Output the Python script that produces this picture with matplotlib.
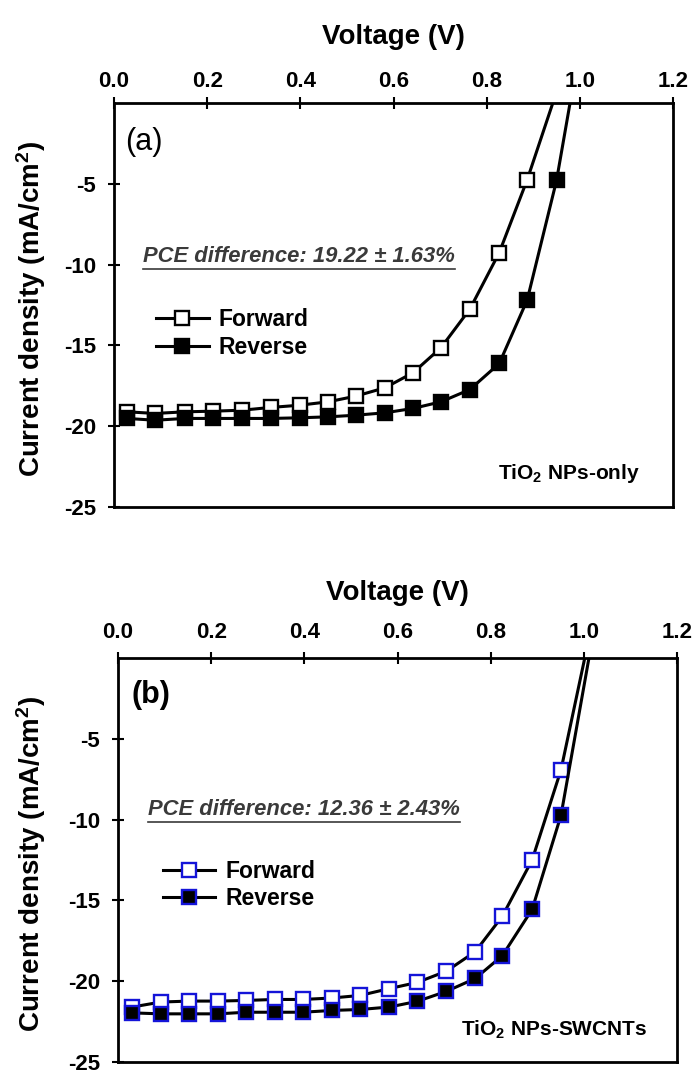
import matplotlib
matplotlib.use('Agg')
import matplotlib.pyplot as plt
from matplotlib.lines import Line2D

plt.rcParams['font.family'] = ['Liberation Sans', 'DejaVu Sans']
plt.rcParams['mathtext.fontset'] = 'custom'
plt.rcParams['mathtext.rm'] = 'Liberation Sans'
plt.rcParams['mathtext.bf'] = 'Liberation Sans:bold'
plt.rcParams['mathtext.it'] = 'Liberation Sans:italic'

# (a) TiO2 NPs-only
v_a = [0.028, 0.088, 0.153, 0.213, 0.275, 0.336, 0.399, 0.460, 0.519, 0.582,
       0.642, 0.702, 0.764, 0.827, 0.887, 0.950]
fwd_a = [-19.11, -19.21, -19.11, -19.07, -19.01, -18.84, -18.70, -18.49, -18.14,
         -17.62, -16.69, -15.14, -12.75, -9.26, -4.75]
rev_a = [-19.52, -19.63, -19.52, -19.52, -19.52, -19.52, -19.48, -19.42, -19.32,
         -19.17, -18.90, -18.49, -17.73, -16.12, -12.19, -4.79]
voc_a = [0.942, 0.979]   # forward, reverse (where the curves hit J = 0)

# (b) TiO2 NPs-SWCNTs
v_b = [0.030, 0.092, 0.153, 0.215, 0.275, 0.336, 0.397, 0.459, 0.520, 0.582,
       0.642, 0.705, 0.767, 0.825, 0.889, 0.951]
fwd_b = [-21.60, -21.29, -21.23, -21.23, -21.19, -21.13, -21.13, -21.04, -20.88,
         -20.46, -20.08, -19.38, -18.17, -15.98, -12.50, -6.92]
rev_b = [-21.96, -22.02, -22.02, -22.02, -21.92, -21.92, -21.92, -21.81, -21.75,
         -21.60, -21.25, -20.63, -19.83, -18.42, -15.56, -9.73]
voc_b = [1.002, 1.011]

xticks = [0.0, 0.2, 0.4, 0.6, 0.8, 1.0, 1.2]
yticks = [-25, -20, -15, -10, -5]
pce_a = 'PCE difference: 19.22 ± 1.63%'
pce_b = 'PCE difference: 12.36 ± 2.43%'

fig = plt.figure(figsize=(6.97, 10.70), dpi=100)
W, H = 697.0, 1070.0
ax_a = fig.add_axes([114 / W, 1 - 507 / H, 559 / W, 404 / H])
ax_b = fig.add_axes([118 / W, 1 - 1062 / H, 559 / W, 404 / H])


def iv_curve(ax, v, j, voc, edge, face, label):
    n = len(j)
    xs = list(v[:n]) + [voc]
    ys = list(j) + [0.0]
    ax.plot(xs, ys, color='black', lw=2.2, marker='s', markersize=10,
            markeredgewidth=1.7, markeredgecolor=edge, markerfacecolor=face,
            markevery=list(range(n)), label=label, zorder=3)


def style_axes(ax, tick_pad, label_y, ylab_x, panel, panel_bold, panel_xy,
               pce, pce_xy, name, name_xy, leg_xy):
    ax.set_xlim(0, 1.2)
    ax.set_ylim(-25, 0)
    ax.xaxis.tick_top()
    ax.xaxis.set_label_position('top')
    ax.set_xticks(xticks)
    ax.set_xticklabels(['%.1f' % t for t in xticks])
    ax.set_yticks(yticks)
    ax.set_yticklabels([str(t) for t in yticks])
    for s in ax.spines.values():
        s.set_linewidth(2.0)
    ax.tick_params(axis='x', direction='inout', length=8, width=1.5,
                   pad=tick_pad, labelsize=16)
    ax.tick_params(axis='y', direction='inout', length=8, width=1.5,
                   pad=9, labelsize=16)
    for lab in ax.get_xticklabels() + ax.get_yticklabels():
        lab.set_fontweight('bold')
    ax.set_xlabel('Voltage (V)', fontsize=20, fontweight='bold')
    ax.xaxis.set_label_coords(0.5, label_y)
    ax.set_ylabel(r'Current density (mA/cm$^\mathbf{2}$)', fontsize=20,
                  fontweight='bold')
    ax.yaxis.set_label_coords(ylab_x, 0.49)

    ax.text(panel_xy[0], panel_xy[1], panel, transform=ax.transAxes,
            fontsize=22, fontweight='bold' if panel_bold else 'normal',
            ha='left', va='center')
    t = ax.text(pce_xy[0], pce_xy[1], pce, transform=ax.transAxes,
                fontsize=15.8, fontstyle='italic', fontweight='bold',
                color='#3a3a3a', ha='left', va='center')
    ax.text(name_xy[0], name_xy[1], r'TiO$_\mathbf{2}$ NPs-' + name,
            transform=ax.transAxes, fontsize=15, fontweight='bold',
            ha='right', va='center')
    leg = ax.legend(loc='center left', bbox_to_anchor=leg_xy, frameon=False,
                    fontsize=16.5, handlelength=2.3, handletextpad=0.45,
                    labelspacing=0.2, borderpad=0, borderaxespad=0)
    for txt in leg.get_texts():
        txt.set_fontweight('bold')
    return t


iv_curve(ax_a, v_a, fwd_a, voc_a[0], 'black', 'white', 'Forward')
iv_curve(ax_a, v_a, rev_a, voc_a[1], 'black', 'black', 'Reverse')
iv_curve(ax_b, v_b, fwd_b, voc_b[0], '#1414d8', 'white', 'Forward')
iv_curve(ax_b, v_b, rev_b, voc_b[1], '#1414d8', 'black', 'Reverse')

t_a = style_axes(ax_a, 4, 1.146, -0.118, '(a)', False, (0.020, 0.903),
                 pce_a, (0.052, 0.621), 'only', (0.941, 0.084), (0.075, 0.43))
t_b = style_axes(ax_b, 7, 1.144, -0.125, '(b)', True, (0.025, 0.908),
                 pce_b, (0.054, 0.626), 'SWCNTs', (0.946, 0.079), (0.080, 0.438))

# underline the PCE annotations
fig.canvas.draw()
for t in (t_a, t_b):
    bb = t.get_window_extent()
    y = (bb.y0 - 2) / H
    fig.add_artist(Line2D([bb.x0 / W, bb.x1 / W], [y, y], color='#3a3a3a',
                          lw=1.2, transform=fig.transFigure))

fig.savefig('out.png', dpi=100)
